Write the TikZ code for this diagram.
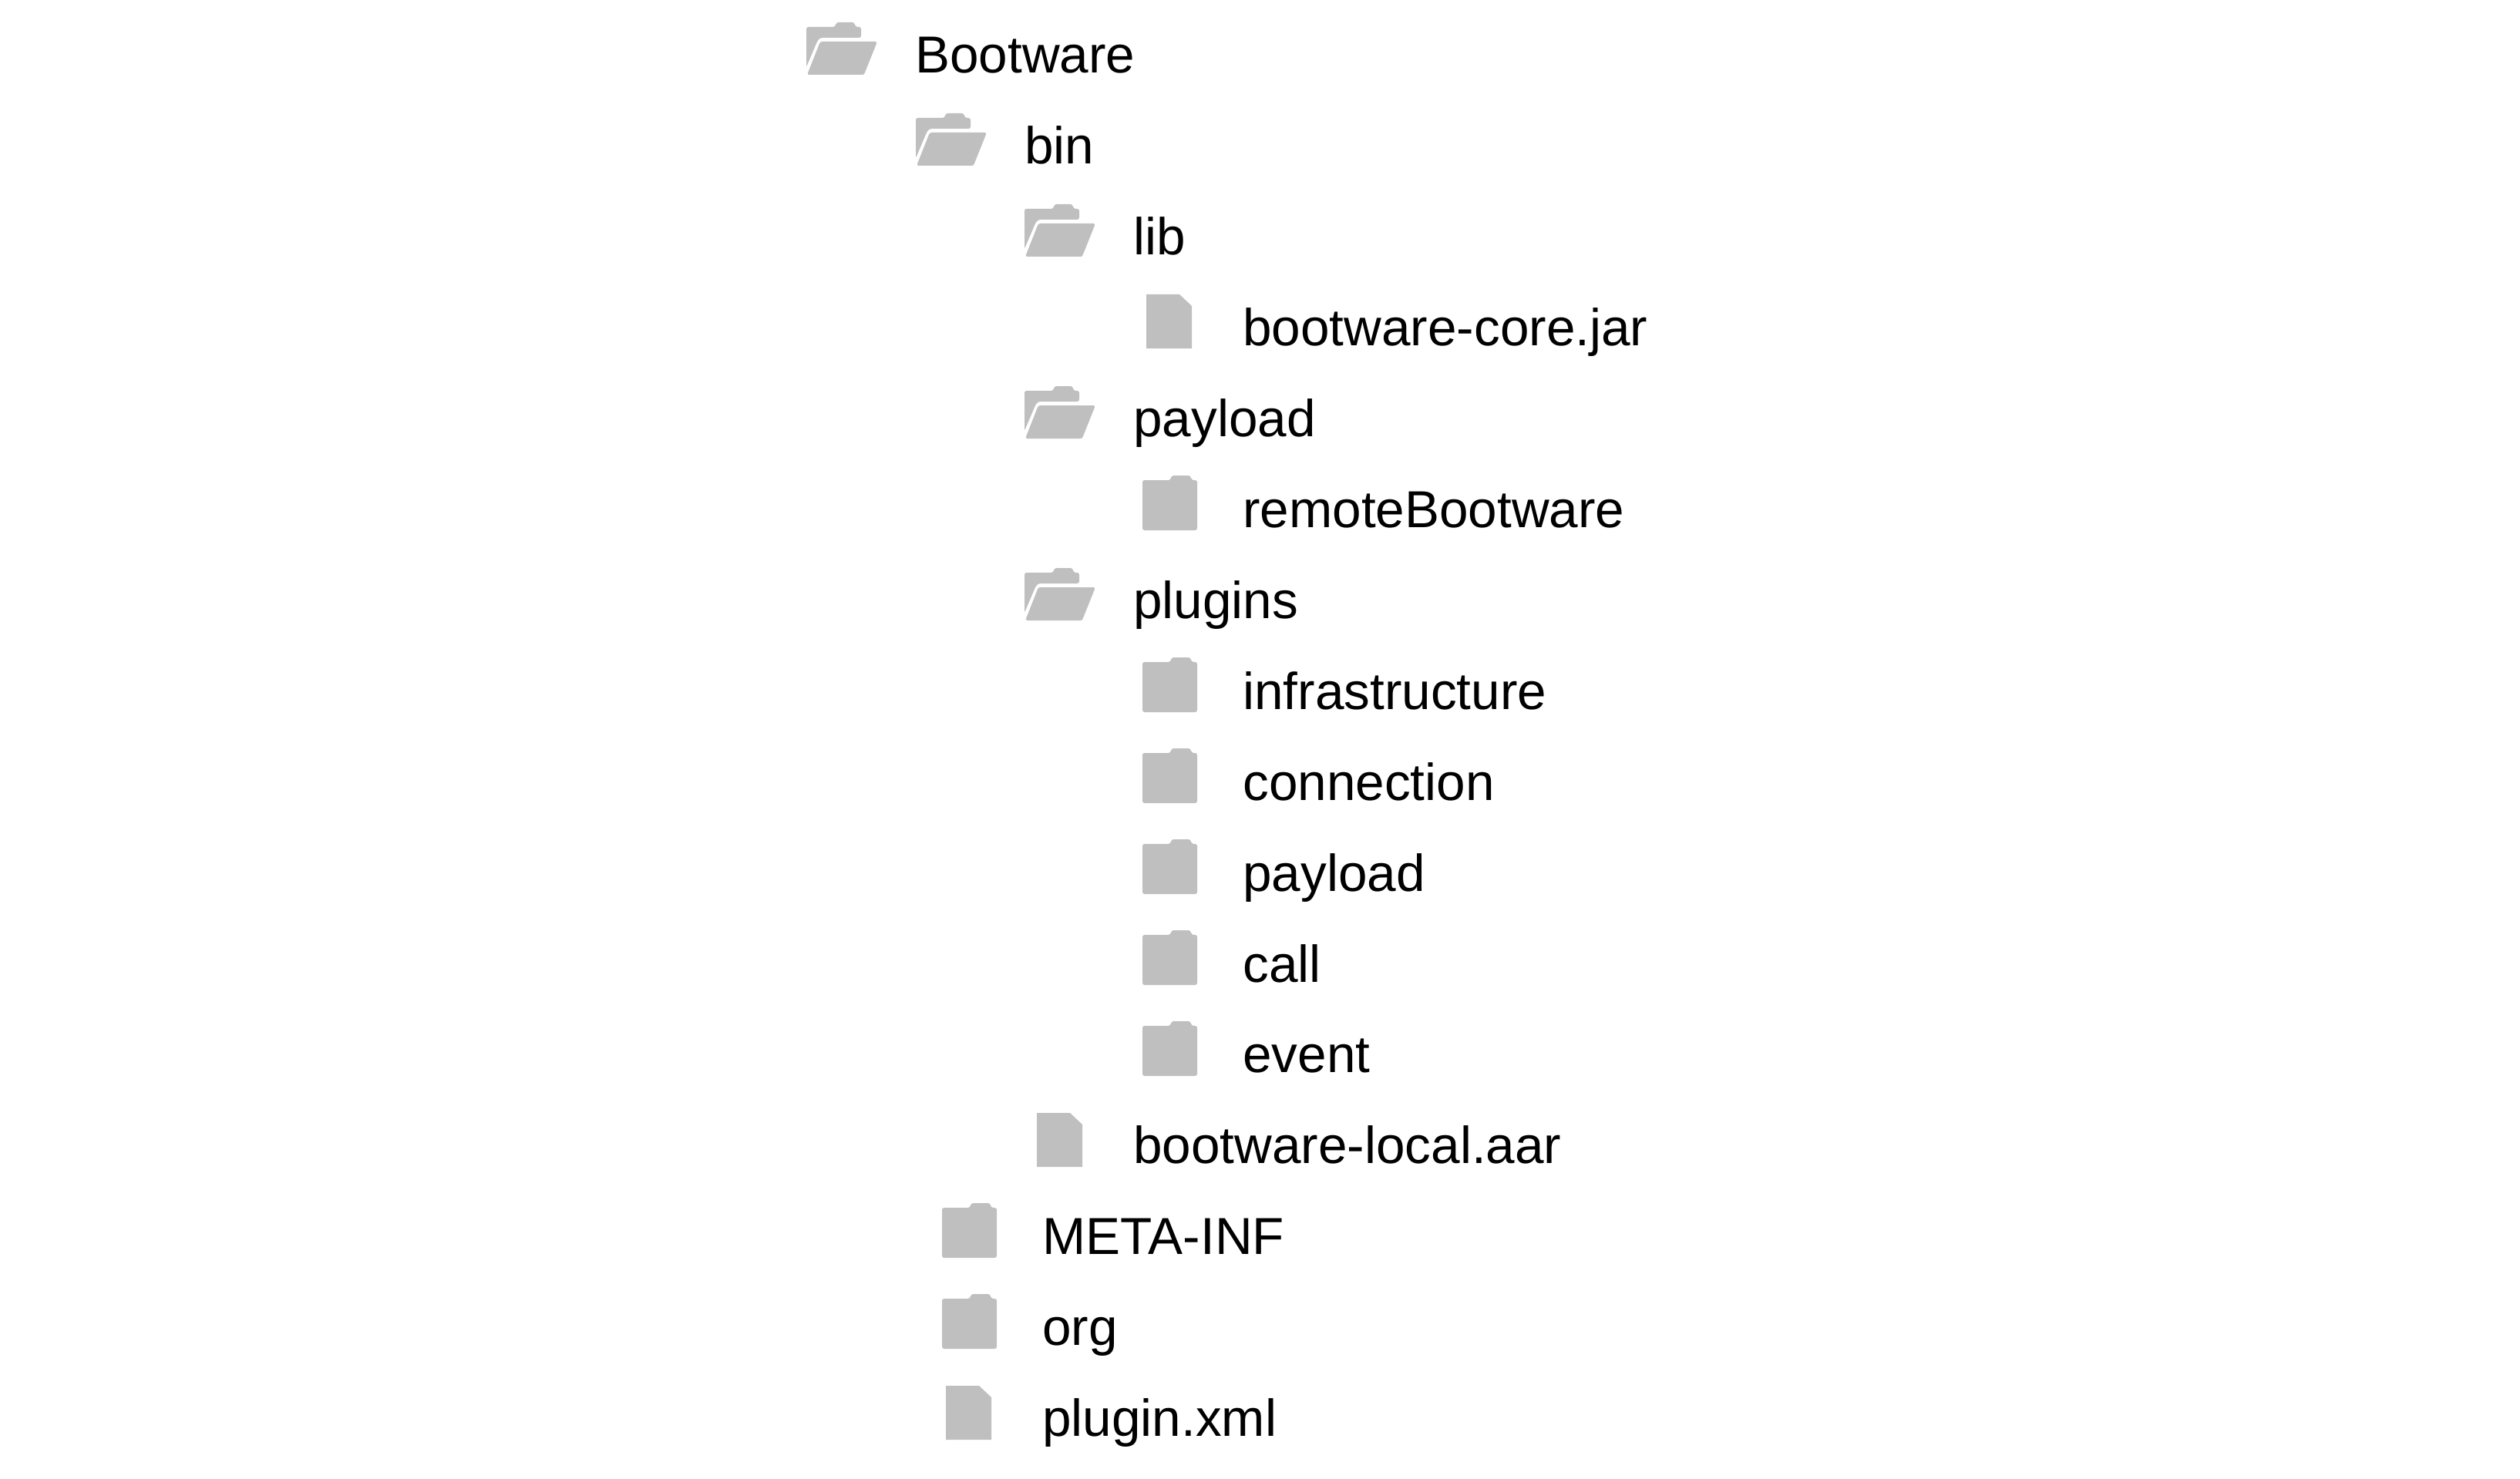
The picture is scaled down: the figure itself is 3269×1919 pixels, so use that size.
\documentclass[tikz,border=0pt]{standalone}
\usepackage{fontspec}
\setmainfont{Liberation Sans}
\definecolor{icongray}{HTML}{BFBFBF}
\tikzset{
  icon/.style={fill=icongray, rounded corners=1.5},
  lab/.style={text=black, font=\fontsize{38.4}{46}\selectfont, inner sep=0pt, anchor=base west},
  pics/openfolder/.style={code={
    \fill[icon,shift={(-141,-1)}] (0,-62) -- (37,-62) -- (39,-68) -- (62,-68) -- (64,-62) -- (71,-62)
      -- (71,-48) -- (24,-48) .. controls (18,-48) and (16,-46) .. (14,-43) -- (0,-10) -- cycle;
    \fill[icon,shift={(-141,-1)}] (18,-43) -- (92,-43) -- (76,-3) .. controls (75,-1) and (73,0) .. (70,0)
      -- (1,0) -- cycle;
  }},
  pics/closedfolder/.style={code={
    \fill[icon,shift={(-130,0)}] (0,0) -- (0,-65) -- (36,-65) -- (38,-71) -- (62,-71) -- (64,-65)
      -- (71,-65) -- (71,0) -- cycle;
  }},
  pics/filepage/.style={code={
    \fill[icongray,shift={(-125,0)}] (0,0) -- (0,-70) -- (43,-70) -- (59,-55) -- (59,0) -- cycle;
  }},
}
\begin{document}
\begin{tikzpicture}[x=0.02cm,y=-0.02cm]
  \useasboundingbox (0,0) rectangle (3269,1919);

  \foreach \i/\c/\kind/\name in {0/1187/openfolder/Bootware,1/1329/openfolder/bin,2/1470/openfolder/lib,
    3/1612/filepage/bootware-core.jar,4/1470/openfolder/payload,5/1612/closedfolder/remoteBootware,
    6/1470/openfolder/plugins,7/1612/closedfolder/infrastructure,8/1612/closedfolder/connection,
    9/1612/closedfolder/payload,10/1612/closedfolder/call,11/1612/closedfolder/event,
    12/1470/filepage/bootware-local.aar,13/1352/closedfolder/META-INF,14/1352/closedfolder/org,
    15/1352/filepage/plugin.xml}{
    \node[lab] (row\i) at (\c,95+117.9*\i) {\name};
    \pic at (\c,98+118*\i) {\kind};
  }
\end{tikzpicture}
\end{document}
